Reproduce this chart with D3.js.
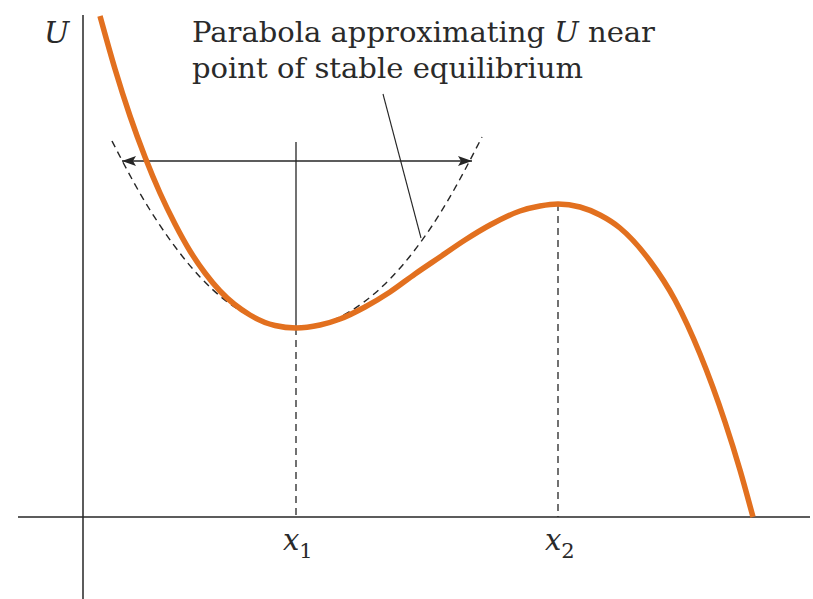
<!DOCTYPE html>
<html>
<head>
<meta charset="utf-8">
<script src="https://cdn.jsdelivr.net/npm/d3@7"></script>
<style>
  html, body { margin: 0; padding: 0; background: #fff; }
  svg { display: block; }
  .lbl { font-family: "DejaVu Serif", "Liberation Serif", serif; fill: #2a2a2a; }
</style>
</head>
<body>
<svg id="chart" width="813" height="599"></svg>
<script>
// Potential energy curve U(x), sampled along the plotted line
const curveX = [0.17, 0.32, 0.47, 0.62, 0.77, 0.92, 1.07, 1.22, 1.37, 1.67, 1.92, 2.13, 2.37, 2.57, 2.82, 3.07, 3.32, 3.57, 3.82, 4.07, 4.37, 4.57, 4.75, 4.97, 5.17, 5.37, 5.67, 5.92, 6.17, 6.42, 6.57, 6.70];
const curveU = [5.01, 4.48, 4.01, 3.60, 3.24, 2.93, 2.66, 2.44, 2.26, 2.02, 1.915, 1.89, 1.92, 1.98, 2.10, 2.25, 2.43, 2.60, 2.77, 2.92, 3.06, 3.11, 3.13, 3.10, 3.02, 2.89, 2.56, 2.17, 1.63, 0.95, 0.47, 0.00];

// Parabola fitted at the stable minimum
const paraX = [0.29, 0.67, 1.17, 1.67, 2.13, 2.57, 3.07, 3.57, 3.99];
const paraU = [3.76, 3.07, 2.40, 2.01, 1.89, 2.00, 2.38, 3.035, 3.80];

// Equilibrium points
const eqX = [2.13, 4.75];
const eqU = [1.89, 3.13];
const eqLabels = ["1", "2"];

// Oscillation range arrows
const arrowLevel = 3.56;
const arrowEnds = [0.39, 3.89];
const guideTop = 3.75;

// Annotation text and leader
const noteLine1 = ["Parabola approximating ", "U", " near"];
const noteLine2 = "point of stable equilibrium";
const leaderX = [3.00, 3.38];
const leaderU = [4.23, 2.79];

const svg = d3.select("#chart");
const x = d3.scaleLinear().domain([-0.65, 7.27]).range([18, 810]);
const y = d3.scaleLinear().domain([-0.82, 5.03]).range([599, 14]);

const ink = "#262626";

// arrowhead marker
svg.append("defs").append("marker")
  .attr("id", "head")
  .attr("viewBox", "0 0 14 10")
  .attr("refX", 14).attr("refY", 5)
  .attr("markerWidth", 14).attr("markerHeight", 10)
  .attr("markerUnits", "userSpaceOnUse")
  .attr("orient", "auto")
  .append("path")
  .attr("d", "M0,0 L14,5 L0,10 L3,5 Z")
  .attr("fill", ink);

// axes
svg.append("line")
  .attr("x1", x(0)).attr("x2", x(0))
  .attr("y1", y(5.02)).attr("y2", y(-0.82))
  .attr("stroke", ink).attr("stroke-width", 1.5);
svg.append("line")
  .attr("x1", x(-0.65)).attr("x2", x(7.27))
  .attr("y1", y(0)).attr("y2", y(0))
  .attr("stroke", ink).attr("stroke-width", 1.5);

// dashed drop lines from equilibria to the axis
svg.selectAll("line.drop").data(eqX).join("line")
  .attr("class", "drop")
  .attr("x1", d => x(d)).attr("x2", d => x(d))
  .attr("y1", (d, i) => y(eqU[i])).attr("y2", y(0))
  .attr("stroke", ink).attr("stroke-width", 1.3)
  .attr("stroke-dasharray", "7,5");

// solid guide above the minimum
svg.append("line")
  .attr("x1", x(eqX[0])).attr("x2", x(eqX[0]))
  .attr("y1", y(guideTop)).attr("y2", y(eqU[0]))
  .attr("stroke", ink).attr("stroke-width", 1.3);

// arrows
arrowEnds.forEach(e => {
  svg.append("line")
    .attr("x1", x(eqX[0])).attr("x2", x(e))
    .attr("y1", y(arrowLevel)).attr("y2", y(arrowLevel))
    .attr("stroke", ink).attr("stroke-width", 1.4)
    .attr("marker-end", "url(#head)");
});

// parabola (dashed)
const paraPts = paraX.map((d, i) => [d, paraU[i]]);
svg.append("path")
  .attr("d", d3.line().x(d => x(d[0])).y(d => y(d[1])).curve(d3.curveNatural)(paraPts))
  .attr("fill", "none").attr("stroke", ink)
  .attr("stroke-width", 1.4).attr("stroke-dasharray", "7,5");

// leader line
svg.append("line")
  .attr("x1", x(leaderX[0])).attr("y1", y(leaderU[0]))
  .attr("x2", x(leaderX[1])).attr("y2", y(leaderU[1]))
  .attr("stroke", ink).attr("stroke-width", 1.1);

// potential curve
const curvePts = curveX.map((d, i) => [d, curveU[i]]);
svg.append("path")
  .attr("d", d3.line().x(d => x(d[0])).y(d => y(d[1])).curve(d3.curveMonotoneX)(curvePts))
  .attr("fill", "none").attr("stroke", "#E2701F")
  .attr("stroke-width", 5.5).attr("stroke-linecap", "butt");

// axis label U
svg.append("text").attr("class", "lbl")
  .attr("x", 44).attr("y", 43)
  .attr("font-size", 30).attr("font-style", "italic")
  .text("U");

// equilibrium labels x1, x2
eqX.forEach((d, i) => {
  const t = svg.append("text").attr("class", "lbl")
    .attr("x", x(d) - 13).attr("y", 550)
    .attr("font-size", 29);
  t.append("tspan").attr("font-style", "italic").text("x");
  t.append("tspan").attr("font-size", 21).attr("dy", 8).text(eqLabels[i]);
});

// annotation
const n1 = svg.append("text").attr("class", "lbl")
  .attr("x", 192).attr("y", 42).attr("font-size", 28)
  .attr("textLength", 463).attr("lengthAdjust", "spacingAndGlyphs");
n1.append("tspan").text(noteLine1[0]);
n1.append("tspan").attr("font-style", "italic").text(noteLine1[1]);
n1.append("tspan").text(noteLine1[2]);

svg.append("text").attr("class", "lbl")
  .attr("x", 192).attr("y", 78).attr("font-size", 28)
  .attr("textLength", 391).attr("lengthAdjust", "spacingAndGlyphs")
  .text(noteLine2);
</script>
</body>
</html>
